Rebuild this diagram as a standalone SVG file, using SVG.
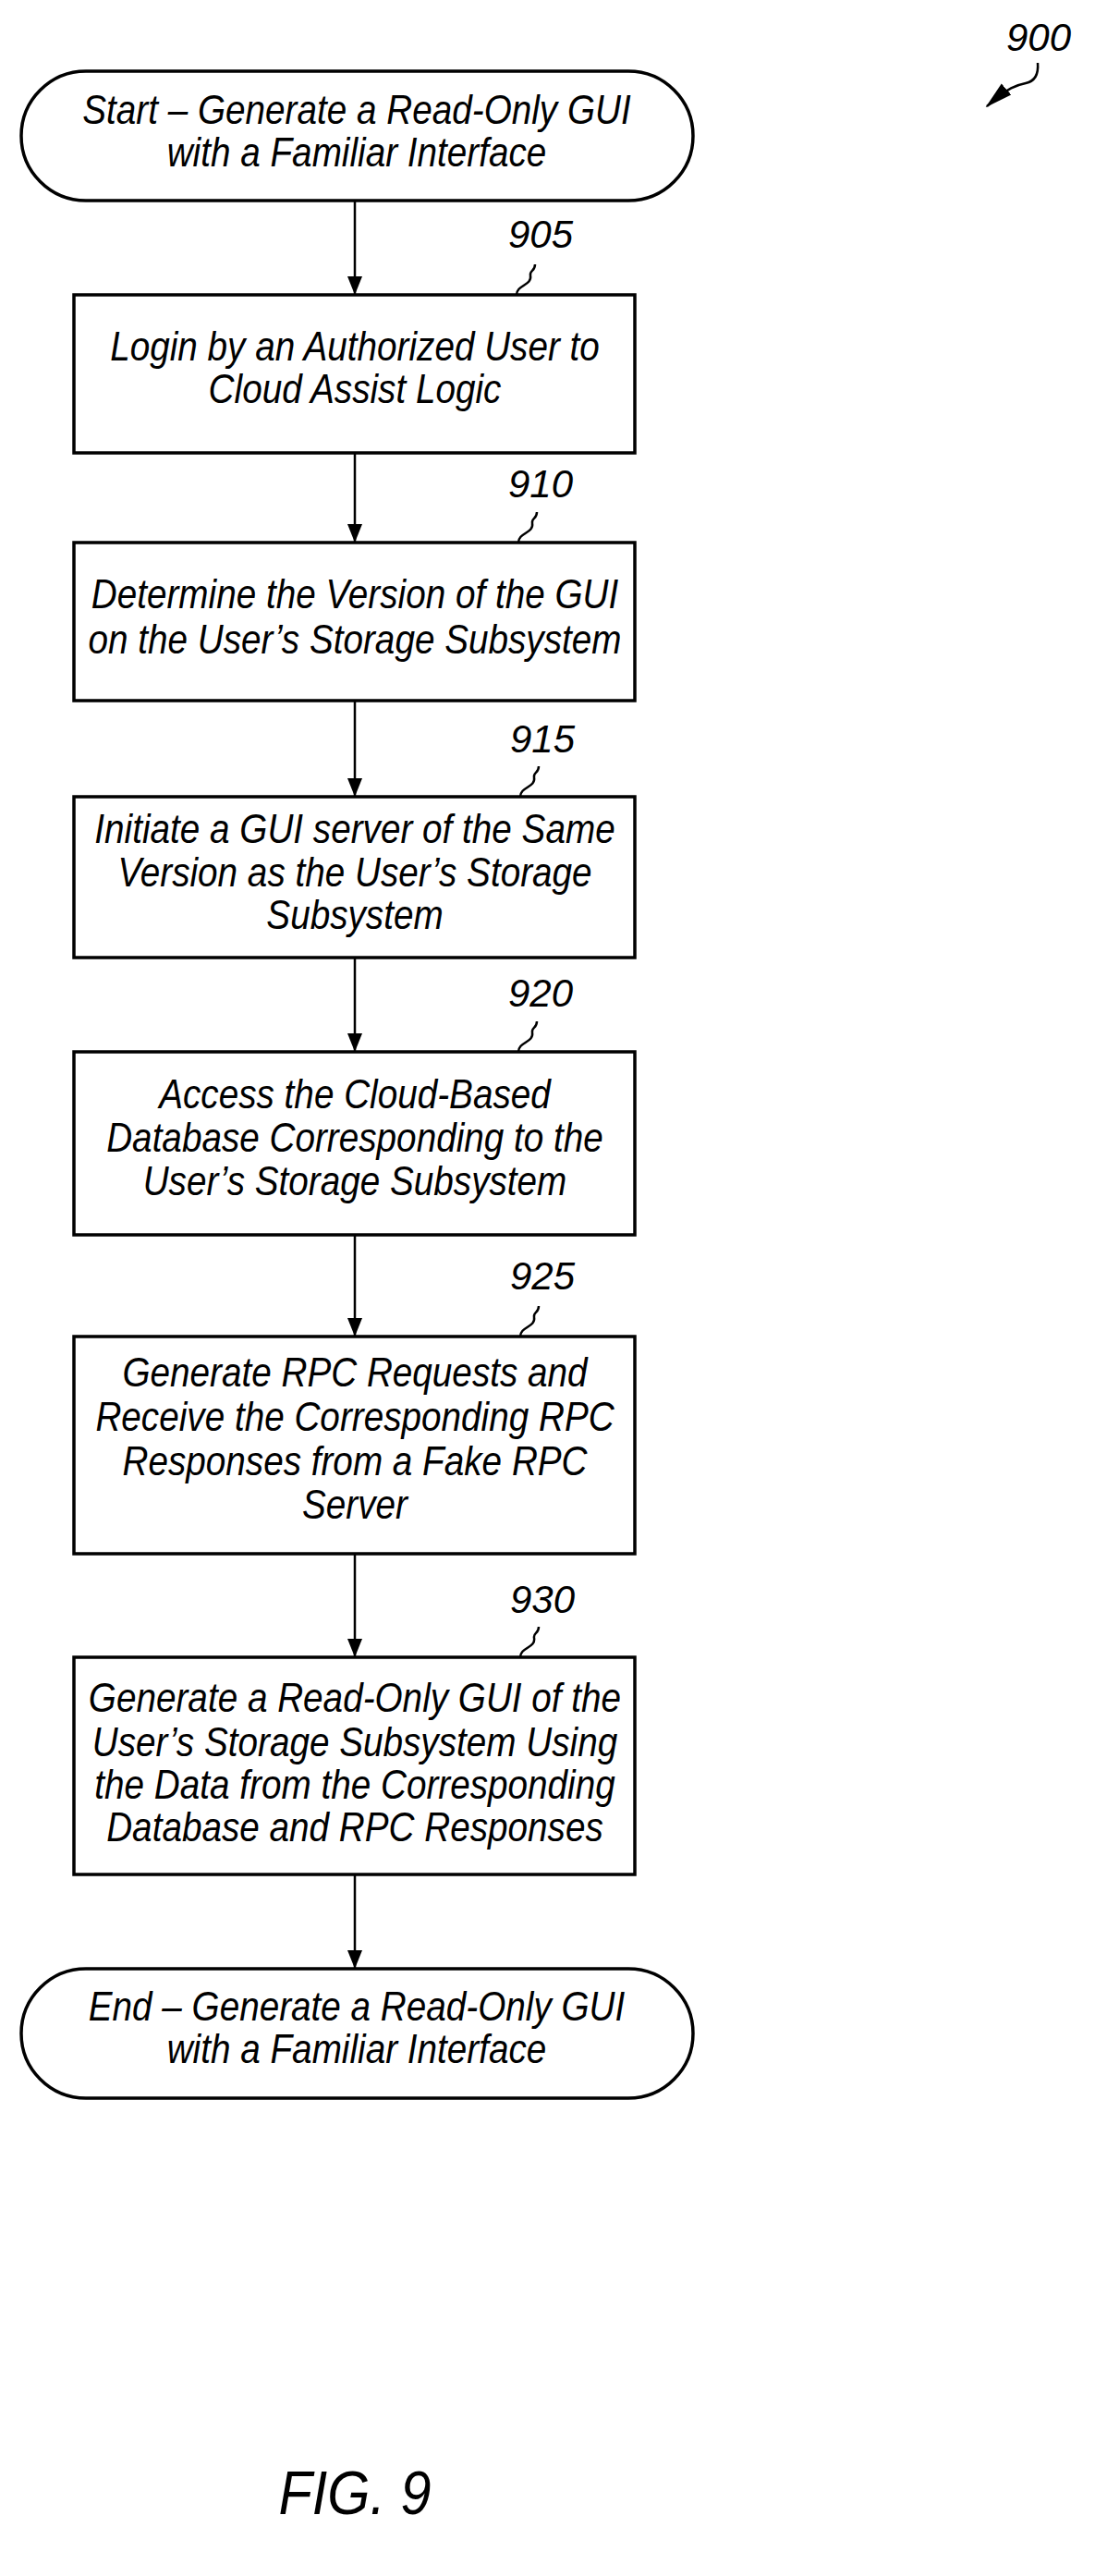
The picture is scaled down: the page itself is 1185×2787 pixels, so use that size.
<svg xmlns="http://www.w3.org/2000/svg" width="1185" height="2787" viewBox="0 0 1185 2787">
<style>
.shape{fill:#fff;stroke:#000;stroke-width:3.5}
.t{font-family:"Liberation Sans",Arial,sans-serif;font-style:italic;font-size:45px;text-anchor:middle;fill:#000}
.n{font-family:"Liberation Sans",Arial,sans-serif;font-style:italic;font-size:42px;text-anchor:middle;fill:#000}
.c{fill:none;stroke:#000;stroke-width:2.5}
</style>
<defs>
<marker id="ah" markerWidth="20" markerHeight="16" refX="20" refY="8" orient="auto" markerUnits="userSpaceOnUse" viewBox="0 0 20 16">
<path d="M0,0 L20,8 L0,16 Z" fill="#000"/>
</marker>
<marker id="ah2" markerWidth="30" markerHeight="30" refX="28" refY="15" orient="auto" markerUnits="userSpaceOnUse" viewBox="0 0 30 30">
<path d="M0,7 L30,15 L0,23 Z" fill="#000"/>
</marker>
</defs>

<g id="label900">
<text class="n" x="1124" y="55">900</text>
<path class="c" d="M1123,68 C1124,80 1120,88 1110,90 C1100,92 1092,94 1068,115" marker-end="url(#ah2)"/>
</g>

<g id="connectors">
<line class="c" x1="384" y1="217" x2="384" y2="319" marker-end="url(#ah)"/>
<line class="c" x1="384" y1="490" x2="384" y2="587" marker-end="url(#ah)"/>
<line class="c" x1="384" y1="758" x2="384" y2="862" marker-end="url(#ah)"/>
<line class="c" x1="384" y1="1036" x2="384" y2="1138" marker-end="url(#ah)"/>
<line class="c" x1="384" y1="1336" x2="384" y2="1446" marker-end="url(#ah)"/>
<line class="c" x1="384" y1="1681" x2="384" y2="1793" marker-end="url(#ah)"/>
<line class="c" x1="384" y1="2028" x2="384" y2="2130" marker-end="url(#ah)"/>
</g>

<g id="start">
<rect class="shape" x="23" y="77" width="727" height="140" rx="70" ry="70"/>
<g transform="translate(386 0) scale(0.86 1)">
<text class="t" x="0" y="134">Start – Generate a Read-Only GUI</text>
<text class="t" x="0" y="180">with a Familiar Interface</text>
</g>
</g>

<g id="n905">
<rect class="shape" x="80" y="319" width="607" height="171"/>
<g transform="translate(384 0) scale(0.86 1)">
<text class="t" x="0" y="390">Login by an Authorized User to</text>
<text class="t" x="0" y="436">Cloud Assist Logic</text>
</g>
<text class="n" x="585" y="268">905</text>
<path class="c" d="M559,319 C559,308 576,309 574,298 C573,292 579,294 579,286"/>
</g>

<g id="n910">
<rect class="shape" x="80" y="587" width="607" height="171"/>
<g transform="translate(384 0) scale(0.86 1)">
<text class="t" x="0" y="658">Determine the Version of the GUI</text>
<text class="t" x="0" y="707">on the User’s Storage Subsystem</text>
</g>
<text class="n" x="585" y="538">910</text>
<path class="c" d="M561,587 C561,576 578,577 576,566 C575,560 581,562 581,554"/>
</g>

<g id="n915">
<rect class="shape" x="80" y="862" width="607" height="174"/>
<g transform="translate(384 0) scale(0.86 1)">
<text class="t" x="0" y="912">Initiate a GUI server of the Same</text>
<text class="t" x="0" y="959">Version as the User’s Storage</text>
<text class="t" x="0" y="1005">Subsystem</text>
</g>
<text class="n" x="587" y="814">915</text>
<path class="c" d="M563,862 C563,851 580,852 578,841 C577,835 583,837 583,829"/>
</g>

<g id="n920">
<rect class="shape" x="80" y="1138" width="607" height="198"/>
<g transform="translate(384 0) scale(0.86 1)">
<text class="t" x="0" y="1199">Access the Cloud-Based</text>
<text class="t" x="0" y="1246">Database Corresponding to the</text>
<text class="t" x="0" y="1293">User’s Storage Subsystem</text>
</g>
<text class="n" x="585" y="1089">920</text>
<path class="c" d="M561,1138 C561,1127 578,1128 576,1117 C575,1111 581,1113 581,1105"/>
</g>

<g id="n925">
<rect class="shape" x="80" y="1446" width="607" height="235"/>
<g transform="translate(384 0) scale(0.86 1)">
<text class="t" x="0" y="1500">Generate RPC Requests and</text>
<text class="t" x="0" y="1548">Receive the Corresponding RPC</text>
<text class="t" x="0" y="1596">Responses from a Fake RPC</text>
<text class="t" x="0" y="1643">Server</text>
</g>
<text class="n" x="587" y="1395">925</text>
<path class="c" d="M563,1446 C563,1435 580,1436 578,1425 C577,1419 583,1421 583,1413"/>
</g>

<g id="n930">
<rect class="shape" x="80" y="1793" width="607" height="235"/>
<g transform="translate(384 0) scale(0.86 1)">
<text class="t" x="0" y="1852">Generate a Read-Only GUI of the</text>
<text class="t" x="0" y="1900">User’s Storage Subsystem Using</text>
<text class="t" x="0" y="1946">the Data from the Corresponding</text>
<text class="t" x="0" y="1992">Database and RPC Responses</text>
</g>
<text class="n" x="587" y="1745">930</text>
<path class="c" d="M563,1793 C563,1782 580,1783 578,1772 C577,1766 583,1768 583,1760"/>
</g>

<g id="end">
<rect class="shape" x="23" y="2130" width="727" height="140" rx="70" ry="70"/>
<g transform="translate(386 0) scale(0.86 1)">
<text class="t" x="0" y="2186">End – Generate a Read-Only GUI</text>
<text class="t" x="0" y="2232">with a Familiar Interface</text>
</g>
</g>

<g id="caption">
<g transform="translate(384 0) scale(0.9 1)">
<text class="t" x="0" y="2720" style="font-size:66px">FIG. 9</text>
</g>
</g>
</svg>
